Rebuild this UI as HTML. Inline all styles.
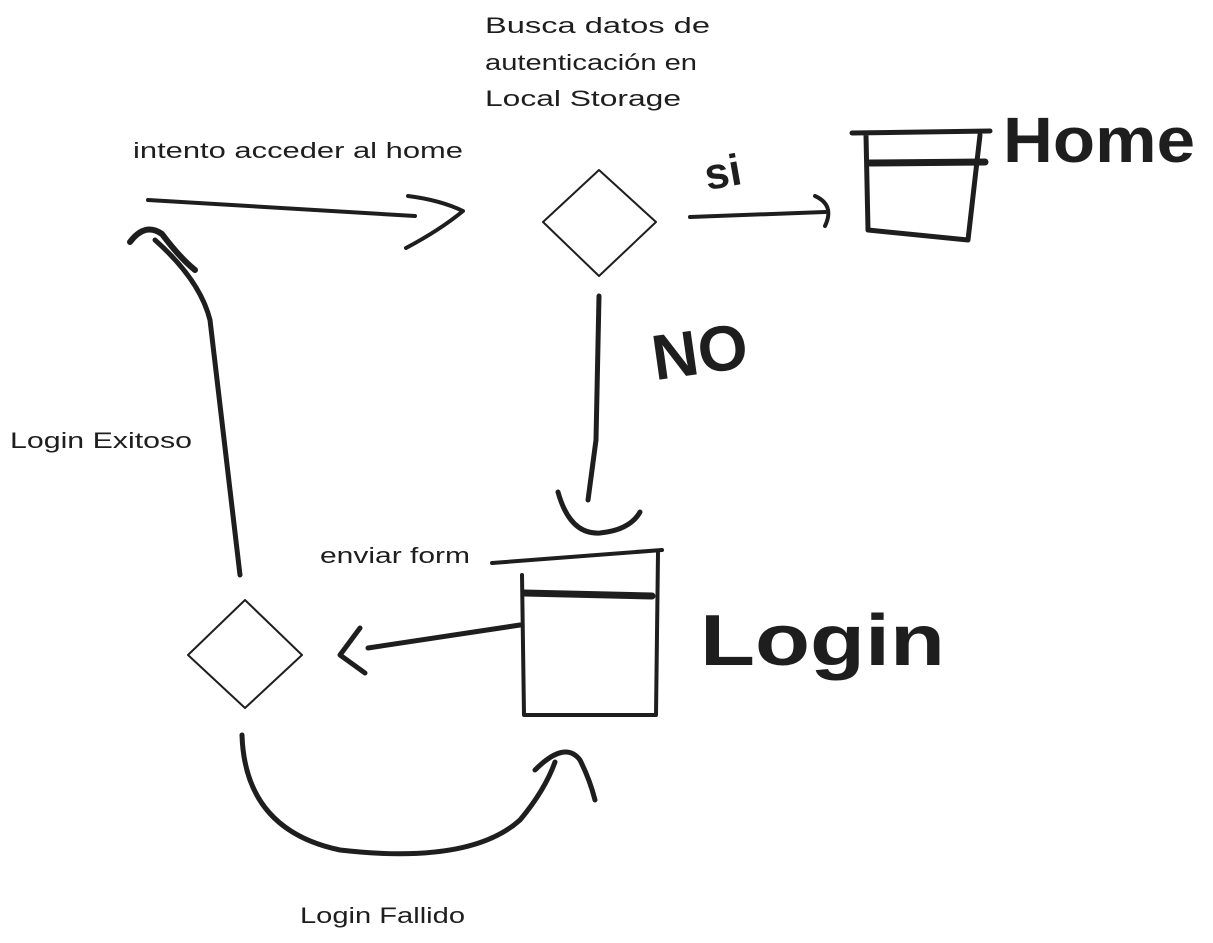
<!DOCTYPE html>
<html><head><meta charset="utf-8"><style>
html,body{margin:0;padding:0;background:#fff;}
svg{display:block}
.t{font-family:"Liberation Sans",sans-serif;font-size:22px;fill:#1e1e1e}
.big{font-family:"Liberation Sans",sans-serif;fill:#1e1e1e;font-weight:bold}
.s{fill:none;stroke:#1e1e1e;stroke-linecap:round;stroke-linejoin:round}
</style></head><body>
<svg width="1213" height="943" viewBox="0 0 1213 943">
<g>
<text class="t" x="485" y="33" textLength="225" lengthAdjust="spacingAndGlyphs">Busca datos de</text>
<text class="t" x="485" y="70" textLength="212" lengthAdjust="spacingAndGlyphs">autenticación en</text>
<text class="t" x="485" y="106" textLength="196" lengthAdjust="spacingAndGlyphs">Local Storage</text>
</g>
<text class="t" x="133" y="158" textLength="330" lengthAdjust="spacingAndGlyphs">intento acceder al home</text>
<g>
<path class="s" stroke-width="4" d="M148 200 L415 216"/>
<path class="s" stroke-width="4" d="M408 196 Q440 200 463 211 Q440 230 406 248"/>
</g>
<path class="s" stroke-width="2" d="M599 170 L656 222 L599 276 L543 222 Z"/>
<g>
<path class="s" stroke-width="4" d="M690 217 L825 212"/>
<path class="s" stroke-width="4" d="M815 196 Q835 205 825 226"/>
</g>
<text class="big" x="705" y="186" font-size="44" transform="rotate(-10 730 175)">si</text>
<g>
<path class="s" stroke-width="5" d="M852 133 L990 131 M866 135 L868 230 L968 240 L980 135"/>
<path class="s" stroke-width="7" d="M870 163 L985 162"/>
</g>
<text class="big" x="1003" y="162" font-size="64" textLength="192" lengthAdjust="spacingAndGlyphs">Home</text>
<g>
<path class="s" stroke-width="5" d="M599 296 L596 440 L588 500"/>
<path class="s" stroke-width="5" d="M558 492 Q570 535 600 533 Q630 530 640 512"/>
</g>
<text class="big" x="650" y="375" font-size="64" transform="rotate(-8 690 340)">NO</text>
<g>
<path class="s" stroke-width="4" d="M492 563 L662 550 M522 575 L524 715 L656 715 L658 553"/>
<path class="s" stroke-width="7" d="M524 593 L652 596"/>
</g>
<text class="big" x="700" y="665" font-size="72" textLength="245" lengthAdjust="spacingAndGlyphs">Login</text>
<text class="t" x="320" y="563" textLength="150" lengthAdjust="spacingAndGlyphs">enviar form</text>
<g>
<path class="s" stroke-width="5" d="M520 625 L368 648"/>
<path class="s" stroke-width="5" d="M360 628 L340 655 L365 673"/>
</g>
<path class="s" stroke-width="2" d="M245 600 L302 655 L245 708 L188 655 Z"/>
<g>
<path class="s" stroke-width="5" d="M242 735 Q245 830 340 850 Q470 865 520 820 Q545 790 555 762"/>
<path class="s" stroke-width="5" d="M535 770 Q565 740 580 760 Q590 780 595 800"/>
</g>
<text class="t" x="300" y="923" textLength="165" lengthAdjust="spacingAndGlyphs">Login Fallido</text>
<g>
<path class="s" stroke-width="5" d="M240 575 Q225 450 210 320 Q200 280 155 240"/>
<path class="s" stroke-width="6" d="M130 242 Q145 222 162 234 Q180 258 195 270"/>
</g>
<text class="t" x="10" y="448" textLength="182" lengthAdjust="spacingAndGlyphs">Login Exitoso</text>
</svg>
</body></html>
